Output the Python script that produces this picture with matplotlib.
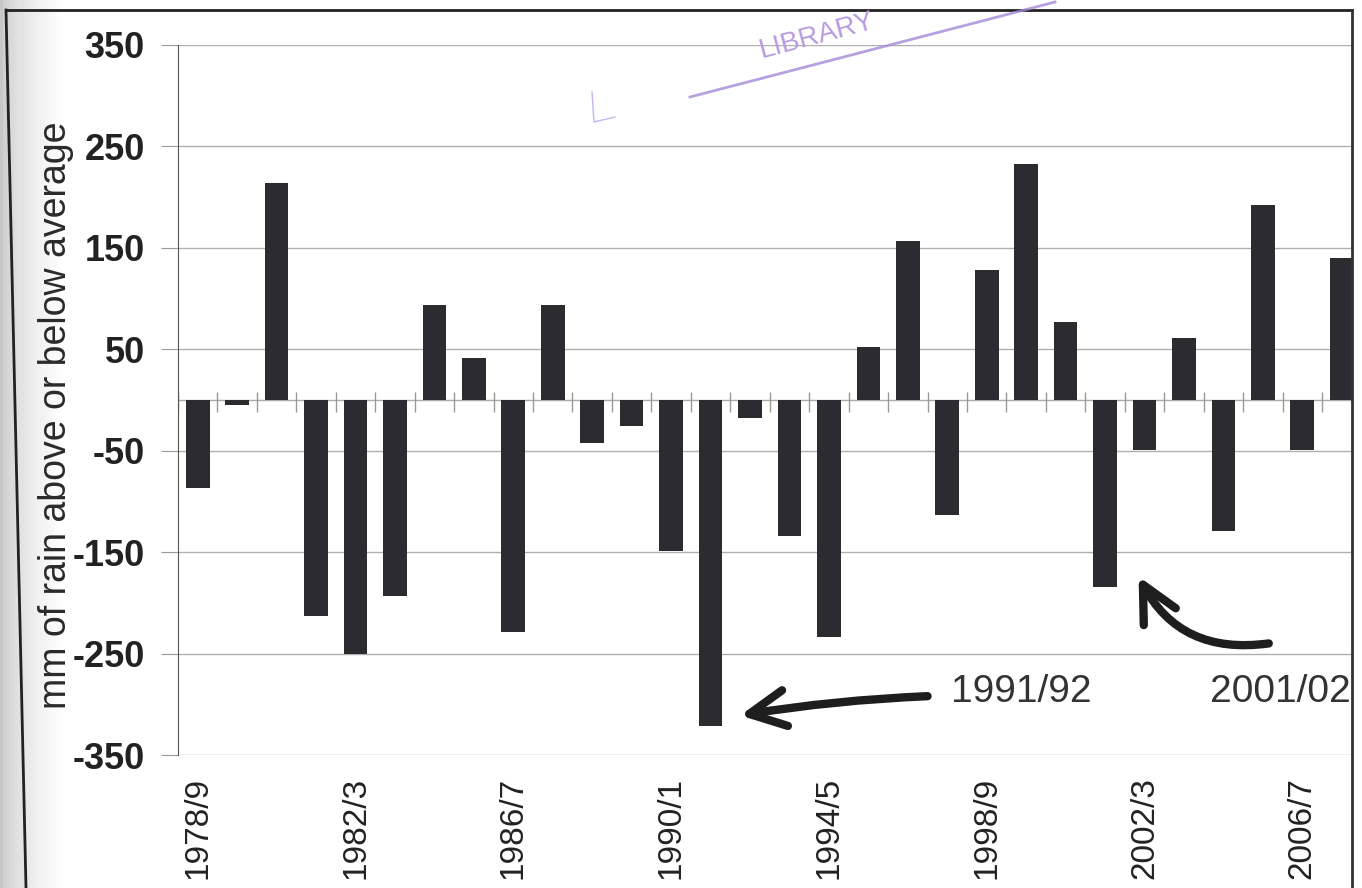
import matplotlib.pyplot as plt
import numpy as np
from matplotlib.lines import Line2D

seasons = ["1978/9", "1979/80", "1980/1", "1981/2", "1982/3", "1983/4", "1984/5",
           "1985/6", "1986/7", "1987/8", "1988/9", "1989/90", "1990/1", "1991/2",
           "1992/3", "1993/4", "1994/5", "1995/6", "1996/7", "1997/8", "1998/9",
           "1999/2000", "2000/1", "2001/2", "2002/3", "2003/4", "2004/5", "2005/6",
           "2006/7", "2007/8"]
rain_anomaly = [-87, -5, 214, -213, -250, -193, 94, 41, -229, 94,
                -42, -26, -149, -321, -18, -134, -234, 52, 157, -113,
                128, 233, 77, -184, -49, 61, -129, 192, -49, 140]
shown_labels = ["1978/9", "1982/3", "1986/7", "1990/1", "1994/5", "1998/9", "2002/3", "2006/7"]
y_ticks = [-350, -250, -150, -50, 50, 150, 250, 350]

plt.rcParams["font.family"] = ["Liberation Sans", "DejaVu Sans"]

fig = plt.figure(figsize=(13.62, 8.88), dpi=100)

# scanner shadow on the left edge
bg = fig.add_axes([0, 0, 1, 1], zorder=-10)
grad = np.linspace(0, 1, 400)
shade = np.clip(0.78 + 0.22 * (grad * 22) ** 0.6, 0, 1)
bg.imshow(np.tile(shade, (10, 1)), cmap="gray", vmin=0, vmax=1, aspect="auto",
          extent=[0, 1, 0, 1])
bg.axis("off")

ax = fig.add_axes([178 / 1362, 1 - 755 / 888, 1174 / 1362, 710 / 888])
ax.patch.set_alpha(0)
x = np.arange(len(seasons))
ax.bar(x, rain_anomaly, width=0.6, color="#2b2b30", zorder=3)

ax.set_xlim(-0.5, 29.26)
ax.set_ylim(-350, 350)
ax.set_yticks(y_ticks)
ax.set_yticklabels([str(v) for v in y_ticks], fontsize=26, fontweight="bold", color="#222222")
ax.grid(axis="y", color="#b0b0b0", lw=1, zorder=0)
ax.tick_params(axis="y", length=12, color="#999999", pad=12)

ax.set_xticks([seasons.index(s) for s in shown_labels])
ax.set_xticklabels(shown_labels, rotation=90, fontsize=24, color="#222222")
ax.tick_params(axis="x", length=0, pad=16)

# zero line with category-boundary ticks
ax.axhline(0, color="#aaaaaa", lw=1, zorder=1)
ax.vlines(np.arange(-0.5, len(seasons), 1), -12, 8, color="#999999", lw=1, zorder=2)

for side in ["top", "right", "bottom"]:
    ax.spines[side].set_visible(False)
ax.spines["left"].set_color("#555555")

ax.set_ylabel("mm of rain above or below average", fontsize=27, color="#2a2a2a")
ax.yaxis.set_label_coords(-104 / 1174, (755 - 415) / 710)

arrow_kw = dict(arrowstyle="->,head_length=2.6,head_width=1.3", lw=6,
                color="#1e1e1e", capstyle="round", joinstyle="round",
                shrinkA=0, shrinkB=0)
ax.annotate("", xy=(13.75, -311), xytext=(18.5, -292),
            arrowprops=dict(connectionstyle="arc3,rad=0.03", **arrow_kw), zorder=5)
ax.text(19.1, -288, "1991/92", fontsize=28, color="#333333", va="center")

ax.annotate("", xy=(23.85, -174), xytext=(27.15, -240),
            arrowprops=dict(connectionstyle="arc3,rad=-0.35", **arrow_kw), zorder=5)
ax.text(25.66, -288, "2001/02", fontsize=28, color="#333333", va="center")

# page frame
fig.add_artist(Line2D([6 / 1362, 1352 / 1362], [1 - 10 / 888, 1 - 10 / 888],
                      color="#222222", lw=2))
fig.add_artist(Line2D([6 / 1362, 26 / 1362], [1 - 10 / 888, 0], color="#222222", lw=2))
fig.add_artist(Line2D([1352 / 1362, 1352 / 1362], [1 - 10 / 888, 0], color="#333333", lw=2))

# library stamp
fig.text(817 / 1362, 1 - 36 / 888, "LIBRARY", fontsize=20, color="#b89be0",
         rotation=15, ha="center", va="center")
fig.add_artist(Line2D([690 / 1362, 1055 / 1362], [1 - 97 / 888, 1 - 2 / 888],
                      color="#a58ad8", lw=2, alpha=0.8))
fig.add_artist(Line2D([592 / 1362, 594 / 1362, 615 / 1362],
                      [1 - 92 / 888, 1 - 122 / 888, 1 - 117 / 888],
                      color="#c9b6ec", lw=1))

fig.savefig("out.png", dpi=100)
